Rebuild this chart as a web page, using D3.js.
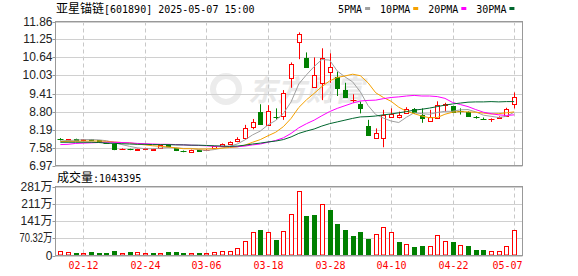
<!DOCTYPE html>
<html>
<head>
<meta charset="utf-8">
<script src="https://cdn.jsdelivr.net/npm/d3@7"></script>
<style>
	body { margin: 0; background: #fff; }
	svg text { font-family: "Liberation Sans", "Noto Sans CJK SC", sans-serif; }
</style>
</head>
<body>
<div id="chart"></div>
<script>
/* data */
var dates = ["02-07","02-10","02-11","02-12","02-13","02-14","02-17","02-18","02-19","02-20",
	"02-21","02-24","02-25","02-26","02-27","02-28","03-03","03-04","03-05","03-06",
	"03-07","03-10","03-11","03-12","03-13","03-14","03-17","03-18","03-19","03-20",
	"03-21","03-24","03-25","03-26","03-27","03-28","03-31","04-01","04-02","04-03",
	"04-07","04-08","04-09","04-10","04-11","04-14","04-15","04-16","04-17","04-18",
	"04-21","04-22","04-23","04-24","04-25","04-28","04-29","04-30","05-06","05-07"];

var opens = [7.87,7.85,7.87,7.84,7.86,7.82,7.74,7.71,7.52,7.53,
	7.51,7.54,7.50,7.55,7.65,7.55,7.46,7.43,7.49,7.48,
	7.55,7.63,7.69,7.79,7.90,8.27,8.78,8.35,8.63,8.65,
	9.93,11.15,10.63,9.62,9.76,10.14,9.99,9.53,9.19,9.05,
	8.31,7.89,7.90,8.63,8.63,8.76,8.90,8.68,8.47,8.60,
	9.01,8.99,8.82,8.80,8.63,8.56,8.55,8.59,8.66,9.05];
var highs = [7.90,7.87,7.88,7.87,7.87,7.83,7.75,7.72,7.55,7.54,
	7.54,7.57,7.54,7.67,7.68,7.56,7.48,7.51,7.50,7.52,
	7.63,7.72,7.79,7.93,8.35,8.55,9.05,9.02,8.91,9.53,
	10.47,11.49,10.81,10.64,10.95,10.78,10.16,9.78,9.39,9.14,
	8.52,8.23,8.86,8.91,8.80,8.95,8.92,8.91,8.86,9.15,
	9.10,9.00,8.91,8.81,8.65,8.60,8.57,8.64,8.93,9.45];
var lows = [7.82,7.80,7.83,7.80,7.82,7.78,7.70,7.49,7.51,7.49,
	7.48,7.52,7.47,7.54,7.60,7.46,7.42,7.40,7.46,7.47,
	7.54,7.60,7.67,7.76,7.88,8.20,8.35,8.32,8.52,8.52,
	9.61,10.58,10.30,9.60,9.19,9.78,9.33,9.28,9.10,8.74,
	7.99,7.88,7.59,8.62,8.57,8.75,8.72,8.42,8.46,8.57,
	8.80,8.79,8.70,8.62,8.56,8.53,8.45,8.58,8.65,8.91];
var closes = [7.86,7.86,7.84,7.86,7.83,7.80,7.72,7.53,7.54,7.52,
	7.53,7.56,7.53,7.66,7.64,7.48,7.45,7.50,7.47,7.51,
	7.62,7.71,7.77,7.87,8.23,8.46,8.38,8.81,8.61,9.44,
	10.41,11.45,10.33,10.04,10.61,10.33,9.61,9.31,9.21,8.91,
	8.00,8.06,8.70,8.72,8.69,8.89,8.78,8.57,8.61,9.01,
	9.07,8.80,8.81,8.64,8.62,8.55,8.56,8.61,8.88,9.31];
var lastClose = 7.80; // close of the day before 02-07

// volume, in 万
var volumes = [16.5,12.3,8.2,8.2,12.3,8.2,11,16.5,11,12.3,
	12.3,8.2,8.2,11,12.3,12.3,8.2,11,8.2,8.2,
	15,19,19,29,60,97,103,97,62,101,
	171,263,160,165,209,185,128,103,78,95,
	66,89,118,97,53.5,48,33,37,40,85,
	60,53.5,44,37,20.6,20.6,19,19,37,104.3395];

var ma5 = [7.80,7.82,7.83,7.85,7.85,7.84,7.81,7.75,7.68,7.62,
	7.57,7.54,7.54,7.56,7.58,7.57,7.55,7.55,7.51,7.48,
	7.51,7.56,7.62,7.70,7.84,8.01,8.14,8.35,8.50,8.74,
	9.13,9.74,10.05,10.33,10.57,10.55,10.18,9.98,9.81,9.47,
	9.01,8.70,8.58,8.48,8.43,8.61,8.76,8.73,8.71,8.77,
	8.81,8.81,8.86,8.87,8.79,8.68,8.64,8.60,8.64,8.78];
var ma10 = [7.78,7.79,7.79,7.80,7.80,7.80,7.79,7.77,7.75,7.74,
	7.70,7.67,7.64,7.62,7.60,7.57,7.54,7.54,7.53,7.53,
	7.54,7.56,7.58,7.60,7.66,7.76,7.85,7.98,8.10,8.29,
	8.57,8.94,9.20,9.42,9.65,9.84,9.96,10.01,10.07,10.02,
	9.78,9.44,9.28,9.15,8.95,8.81,8.73,8.65,8.59,8.60,
	8.71,8.78,8.80,8.79,8.78,8.75,8.72,8.73,8.76,8.79];
var ma20 = [7.68,7.69,7.72,7.73,7.74,7.75,7.76,7.76,7.75,7.74,
	7.72,7.71,7.70,7.69,7.69,7.68,7.67,7.66,7.65,7.64,
	7.62,7.62,7.61,7.61,7.63,7.67,7.70,7.76,7.82,7.91,
	8.06,8.25,8.39,8.51,8.66,8.80,8.91,9.00,9.09,9.16,
	9.18,9.19,9.24,9.28,9.30,9.33,9.35,9.33,9.33,9.31,
	9.25,9.11,9.04,8.97,8.87,8.78,8.73,8.69,8.67,8.69];
var ma30 = [7.76,7.76,7.76,7.76,7.76,7.75,7.73,7.72,7.71,7.70,
	7.69,7.69,7.68,7.68,7.68,7.67,7.67,7.66,7.66,7.65,
	7.64,7.63,7.62,7.63,7.66,7.70,7.73,7.77,7.80,7.85,
	7.94,8.06,8.14,8.21,8.31,8.39,8.45,8.51,8.57,8.62,
	8.63,8.65,8.69,8.72,8.76,8.80,8.85,8.88,8.92,8.97,
	9.02,9.06,9.09,9.12,9.13,9.13,9.14,9.13,9.14,9.14];

var priceTicks = [6.97, 7.58, 8.19, 8.80, 9.41, 10.03, 10.64, 11.25, 11.86];
var volTicks = [0, 70.32, 140.64, 210.96, 281.28];
var volTickLabels = ["0", "70.32万", "141万", "211万", "281万"];
var dateTicks = ["02-12","02-24","03-06","03-18","03-28","04-10","04-22","05-07"];

var maNames = ["5PMA", "10PMA", "20PMA", "30PMA"];
var maColors = ["#a0a0a0", "#f5a100", "#ff00ff", "#00662e"];
var maSeries = [ma5, ma10, ma20, ma30];

/* layout */
var width = 578, height = 276;
var left = 55.5, right = 522.5;
var priceTop = 21.5, priceBottom = 165.5;
var volTop = 186.5, volBottom = 255.5;
var red = "#ff0000", green = "#008000";
var mono = "'DejaVu Sans Mono', monospace";
var cjk = "'Noto Sans CJK SC', sans-serif";

var svg = d3.select("#chart")
	.append("svg")
		.attr("width", width)
		.attr("height", height);

/* scales */
var x = d3.scaleBand().domain(dates).range([56.5, 518]);
var y = d3.scaleLinear().domain([6.97, 11.86]).range([priceBottom, priceTop]);
var yv = d3.scaleLinear().domain([0, 281.28]).range([volBottom, volTop]);
function cx(d) { return Math.round(x(d) + x.bandwidth() / 2) + 0.5; }

/* watermark */
svg.append("circle")
	.attr("cx", 226).attr("cy", 89).attr("r", 13)
	.attr("fill", "none")
	.attr("stroke", "#ececec").attr("stroke-width", 6);
svg.append("text")
	.attr("x", 248).attr("y", 101)
	.style("font-family", cjk)
	.style("font-size", "29px")
	.style("font-weight", "bold")
	.style("font-style", "italic")
	.attr("fill", "#e8e8e8")
	.text("东方财富");

/* grid lines */
[[priceTop, priceBottom], [volTop, volBottom]].forEach(function(p) {
	svg.append("g").selectAll("line")
		.data(dateTicks).enter().append("line")
			.attr("x1", cx).attr("x2", cx)
			.attr("y1", p[0]).attr("y2", p[1])
			.attr("stroke", "#c8c8c8")
			.attr("stroke-dasharray", "4,3");
});
svg.append("g").selectAll("line")
	.data(priceTicks).enter().append("line")
		.attr("x1", left).attr("x2", right)
		.attr("y1", function(d) { return Math.round(y(d)) + 0.5; })
		.attr("y2", function(d) { return Math.round(y(d)) + 0.5; })
		.attr("stroke", "#d0d0d0");
svg.append("g").selectAll("line")
	.data(volTicks).enter().append("line")
		.attr("x1", left).attr("x2", right)
		.attr("y1", function(d) { return Math.round(yv(d)) + 0.5; })
		.attr("y2", function(d) { return Math.round(yv(d)) + 0.5; })
		.attr("stroke", "#d0d0d0");

/* candles */
var candles = svg.append("g");
dates.forEach(function(d, i) {
	var c = cx(d);
	var up = closes[i] >= opens[i];
	var color = up ? red : green;
	var top = Math.round(y(Math.max(opens[i], closes[i])));
	var bot = Math.round(y(Math.min(opens[i], closes[i])));
	candles.append("line")
		.attr("x1", c).attr("x2", c)
		.attr("y1", y(highs[i])).attr("y2", y(lows[i]))
		.attr("stroke", color);
	if (bot - top < 1) { // flat body
		candles.append("line")
			.attr("x1", c - 3).attr("x2", c + 3)
			.attr("y1", top + 0.5).attr("y2", top + 0.5)
			.attr("stroke", color);
	} else if (up) {
		candles.append("rect")
			.attr("x", c - 2).attr("width", 4)
			.attr("y", top + 0.5).attr("height", bot - top)
			.attr("fill", "#fff").attr("stroke", color);
	} else {
		candles.append("rect")
			.attr("x", c - 2.5).attr("width", 5)
			.attr("y", top).attr("height", bot - top + 1)
			.attr("fill", color);
	}
});

/* moving averages */
maSeries.forEach(function(s, k) {
	svg.append("path")
		.datum(s)
		.attr("fill", "none")
		.attr("stroke", maColors[k])
		.attr("stroke-width", 1)
		.attr("d", d3.line()
			.x(function(v, i) { return x(dates[i]) + x.bandwidth() / 2; })
			.y(function(v) { return y(v); }));
});

/* volume bars, coloured against previous close */
var bars = svg.append("g");
dates.forEach(function(d, i) {
	var c = cx(d);
	var prev = i ? closes[i - 1] : lastClose;
	var top = Math.round(yv(volumes[i]));
	if (closes[i] >= prev) {
		bars.append("rect")
			.attr("x", c - 2).attr("width", 4)
			.attr("y", top + 0.5).attr("height", volBottom - 1 - top)
			.attr("fill", "#fff").attr("stroke", red);
	} else {
		bars.append("rect")
			.attr("x", c - 2.5).attr("width", 5)
			.attr("y", top).attr("height", volBottom - 0.5 - top)
			.attr("fill", green);
	}
});

/* frames and ticks */
[[priceTop, priceBottom], [volTop, volBottom]].forEach(function(p) {
	svg.append("rect")
		.attr("x", left).attr("y", p[0])
		.attr("width", right - left).attr("height", p[1] - p[0])
		.attr("fill", "none").attr("stroke", "#999");
});
svg.append("g").selectAll("line")
	.data(priceTicks).enter().append("line")
		.attr("x1", left - 3).attr("x2", left)
		.attr("y1", function(d) { return Math.round(y(d)) + 0.5; })
		.attr("y2", function(d) { return Math.round(y(d)) + 0.5; })
		.attr("stroke", "#999");
svg.append("g").selectAll("line")
	.data(volTicks).enter().append("line")
		.attr("x1", left - 3).attr("x2", left)
		.attr("y1", function(d) { return Math.round(yv(d)) + 0.5; })
		.attr("y2", function(d) { return Math.round(yv(d)) + 0.5; })
		.attr("stroke", "#999");

/* axis labels */
svg.append("g").selectAll("text")
	.data(priceTicks).enter().append("text")
		.attr("x", 52.5)
		.attr("y", function(d) { return y(d) + 4; })
		.attr("text-anchor", "end")
		.style("font-size", "12px")
		.attr("fill", "#222")
		.text(function(d) { return d.toFixed(2); });

svg.append("g").selectAll("text")
	.data(volTicks).enter().append("text")
		.attr("x", 52.5)
		.attr("y", function(d) { return yv(d) + 4; })
		.attr("text-anchor", "end")
		.style("font-size", "12px")
		.attr("fill", "#222")
		.text(function(d, i) { return volTickLabels[i]; })
		.each(function() {
			if (this.getComputedTextLength() > 33) {
				d3.select(this).attr("textLength", 33).attr("lengthAdjust", "spacingAndGlyphs");
			}
		});

svg.append("g").selectAll("text")
	.data(dateTicks).enter().append("text")
		.attr("x", function(d) { return Math.min(cx(d), right - 15); })
		.attr("y", 269)
		.attr("text-anchor", "middle")
		.style("font-family", mono)
		.style("font-size", "10px")
		.attr("fill", red)
		.text(function(d) { return d; });

/* title */
var title = svg.append("text").attr("x", 56).attr("y", 13).attr("fill", "#000");
title.append("tspan").style("font-family", cjk).style("font-size", "12px").text("亚星锚链");
title.append("tspan").style("font-family", mono).style("font-size", "10px").text("[601890] 2025-05-07 15:00");

var vtitle = svg.append("text").attr("x", 57).attr("y", 181.5).attr("fill", "#000");
vtitle.append("tspan").style("font-family", cjk).style("font-size", "12px").text("成交量");
vtitle.append("tspan").style("font-family", mono).style("font-size", "10px").text(":" + Math.round(volumes[volumes.length - 1] * 10000));

/* legend */
var lx = 338;
maNames.forEach(function(name, k) {
	var t = svg.append("text")
		.attr("x", lx).attr("y", 12.5)
		.style("font-family", mono)
		.style("font-size", "10px")
		.attr("fill", "#000")
		.text(name);
	var w = t.node().getComputedTextLength();
	svg.append("rect")
		.attr("x", lx + w + 3).attr("y", 7)
		.attr("width", 5).attr("height", 3)
		.attr("fill", maColors[k]);
	lx += w + 3 + 5 + 10;
});
</script>
</body>
</html>
